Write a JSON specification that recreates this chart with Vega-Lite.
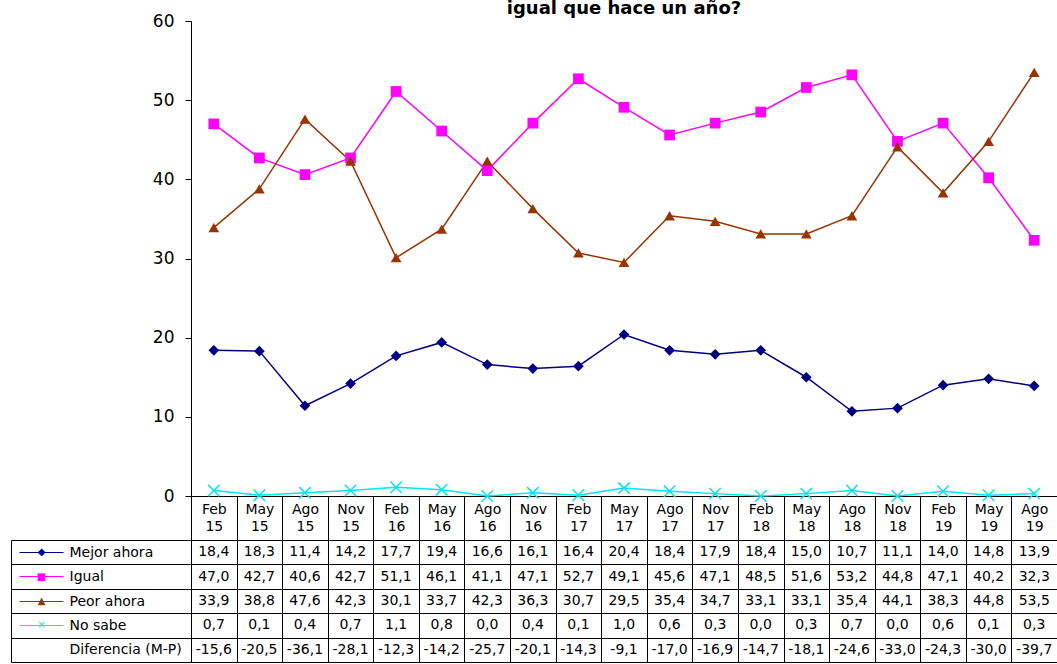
{
  "$schema": "https://vega.github.io/schema/vega-lite/v6.json",
  "padding": {"left": 10, "top": 0, "right": 0, "bottom": 0},
  "autosize": {"type": "pad"},
  "background": "white",
  "bounds": "flush",
  "spacing": 44,
  "data": {"values": [
    {"p": "Feb 15", "s": "Mejor ahora", "v": 18.4}, {"p": "May 15", "s": "Mejor ahora", "v": 18.3}, {"p": "Ago 15", "s": "Mejor ahora", "v": 11.4}, {"p": "Nov 15", "s": "Mejor ahora", "v": 14.2},
    {"p": "Feb 16", "s": "Mejor ahora", "v": 17.7}, {"p": "May 16", "s": "Mejor ahora", "v": 19.4}, {"p": "Ago 16", "s": "Mejor ahora", "v": 16.6}, {"p": "Nov 16", "s": "Mejor ahora", "v": 16.1},
    {"p": "Feb 17", "s": "Mejor ahora", "v": 16.4}, {"p": "May 17", "s": "Mejor ahora", "v": 20.4}, {"p": "Ago 17", "s": "Mejor ahora", "v": 18.4}, {"p": "Nov 17", "s": "Mejor ahora", "v": 17.9},
    {"p": "Feb 18", "s": "Mejor ahora", "v": 18.4}, {"p": "May 18", "s": "Mejor ahora", "v": 15.0}, {"p": "Ago 18", "s": "Mejor ahora", "v": 10.7}, {"p": "Nov 18", "s": "Mejor ahora", "v": 11.1},
    {"p": "Feb 19", "s": "Mejor ahora", "v": 14.0}, {"p": "May 19", "s": "Mejor ahora", "v": 14.8}, {"p": "Ago 19", "s": "Mejor ahora", "v": 13.9},
    {"p": "Feb 15", "s": "Igual", "v": 47.0}, {"p": "May 15", "s": "Igual", "v": 42.7}, {"p": "Ago 15", "s": "Igual", "v": 40.6}, {"p": "Nov 15", "s": "Igual", "v": 42.7},
    {"p": "Feb 16", "s": "Igual", "v": 51.1}, {"p": "May 16", "s": "Igual", "v": 46.1}, {"p": "Ago 16", "s": "Igual", "v": 41.1}, {"p": "Nov 16", "s": "Igual", "v": 47.1},
    {"p": "Feb 17", "s": "Igual", "v": 52.7}, {"p": "May 17", "s": "Igual", "v": 49.1}, {"p": "Ago 17", "s": "Igual", "v": 45.6}, {"p": "Nov 17", "s": "Igual", "v": 47.1},
    {"p": "Feb 18", "s": "Igual", "v": 48.5}, {"p": "May 18", "s": "Igual", "v": 51.6}, {"p": "Ago 18", "s": "Igual", "v": 53.2}, {"p": "Nov 18", "s": "Igual", "v": 44.8},
    {"p": "Feb 19", "s": "Igual", "v": 47.1}, {"p": "May 19", "s": "Igual", "v": 40.2}, {"p": "Ago 19", "s": "Igual", "v": 32.3},
    {"p": "Feb 15", "s": "Peor ahora", "v": 33.9}, {"p": "May 15", "s": "Peor ahora", "v": 38.8}, {"p": "Ago 15", "s": "Peor ahora", "v": 47.6}, {"p": "Nov 15", "s": "Peor ahora", "v": 42.3},
    {"p": "Feb 16", "s": "Peor ahora", "v": 30.1}, {"p": "May 16", "s": "Peor ahora", "v": 33.7}, {"p": "Ago 16", "s": "Peor ahora", "v": 42.3}, {"p": "Nov 16", "s": "Peor ahora", "v": 36.3},
    {"p": "Feb 17", "s": "Peor ahora", "v": 30.7}, {"p": "May 17", "s": "Peor ahora", "v": 29.5}, {"p": "Ago 17", "s": "Peor ahora", "v": 35.4}, {"p": "Nov 17", "s": "Peor ahora", "v": 34.7},
    {"p": "Feb 18", "s": "Peor ahora", "v": 33.1}, {"p": "May 18", "s": "Peor ahora", "v": 33.1}, {"p": "Ago 18", "s": "Peor ahora", "v": 35.4}, {"p": "Nov 18", "s": "Peor ahora", "v": 44.1},
    {"p": "Feb 19", "s": "Peor ahora", "v": 38.3}, {"p": "May 19", "s": "Peor ahora", "v": 44.8}, {"p": "Ago 19", "s": "Peor ahora", "v": 53.5},
    {"p": "Feb 15", "s": "No sabe", "v": 0.7}, {"p": "May 15", "s": "No sabe", "v": 0.1}, {"p": "Ago 15", "s": "No sabe", "v": 0.4}, {"p": "Nov 15", "s": "No sabe", "v": 0.7},
    {"p": "Feb 16", "s": "No sabe", "v": 1.1}, {"p": "May 16", "s": "No sabe", "v": 0.8}, {"p": "Ago 16", "s": "No sabe", "v": 0.0}, {"p": "Nov 16", "s": "No sabe", "v": 0.4},
    {"p": "Feb 17", "s": "No sabe", "v": 0.1}, {"p": "May 17", "s": "No sabe", "v": 1.0}, {"p": "Ago 17", "s": "No sabe", "v": 0.6}, {"p": "Nov 17", "s": "No sabe", "v": 0.3},
    {"p": "Feb 18", "s": "No sabe", "v": 0.0}, {"p": "May 18", "s": "No sabe", "v": 0.3}, {"p": "Ago 18", "s": "No sabe", "v": 0.7}, {"p": "Nov 18", "s": "No sabe", "v": 0.0},
    {"p": "Feb 19", "s": "No sabe", "v": 0.6}, {"p": "May 19", "s": "No sabe", "v": 0.1}, {"p": "Ago 19", "s": "No sabe", "v": 0.3},
    {"p": "Feb 15", "s": "Diferencia (M-P)", "v": -15.6}, {"p": "May 15", "s": "Diferencia (M-P)", "v": -20.5}, {"p": "Ago 15", "s": "Diferencia (M-P)", "v": -36.1}, {"p": "Nov 15", "s": "Diferencia (M-P)", "v": -28.1},
    {"p": "Feb 16", "s": "Diferencia (M-P)", "v": -12.3}, {"p": "May 16", "s": "Diferencia (M-P)", "v": -14.2}, {"p": "Ago 16", "s": "Diferencia (M-P)", "v": -25.7}, {"p": "Nov 16", "s": "Diferencia (M-P)", "v": -20.1},
    {"p": "Feb 17", "s": "Diferencia (M-P)", "v": -14.3}, {"p": "May 17", "s": "Diferencia (M-P)", "v": -9.1}, {"p": "Ago 17", "s": "Diferencia (M-P)", "v": -17.0}, {"p": "Nov 17", "s": "Diferencia (M-P)", "v": -16.9},
    {"p": "Feb 18", "s": "Diferencia (M-P)", "v": -14.7}, {"p": "May 18", "s": "Diferencia (M-P)", "v": -18.1}, {"p": "Ago 18", "s": "Diferencia (M-P)", "v": -24.6}, {"p": "Nov 18", "s": "Diferencia (M-P)", "v": -33.0},
    {"p": "Feb 19", "s": "Diferencia (M-P)", "v": -24.3}, {"p": "May 19", "s": "Diferencia (M-P)", "v": -30.0}, {"p": "Ago 19", "s": "Diferencia (M-P)", "v": -39.7}
  ]},
  "vconcat": [
    {
      "title": {"text": "igual que hace un año?", "font": "DejaVu Sans", "fontSize": 18, "fontWeight": "bold", "color": "black", "offset": -6},
      "width": 866,
      "height": 475,
      "transform": [{"filter": "datum.s != 'Diferencia (M-P)'"}],
      "encoding": {
        "x": {"field": "p", "type": "ordinal", "sort": null,
          "scale": {"type": "band", "paddingInner": 0, "paddingOuter": 0},
          "axis": {"orient": "bottom", "title": null, "tickBand": "extent", "tickSize": 44, "tickColor": "black", "domainColor": "black",
            "labelExpr": "split(datum.label, ' ')", "labelAngle": 0, "labelPadding": -38, "labelBaseline": "top",
            "labelFont": "DejaVu Sans", "labelFontSize": 14, "labelLineHeight": 17, "labelColor": "black", "labelOverlap": false, "grid": false}},
        "y": {"field": "v", "type": "quantitative",
          "scale": {"domain": [0, 60], "nice": false},
          "axis": {"title": null, "values": [0, 10, 20, 30, 40, 50, 60], "tickSize": 6, "tickColor": "black", "domainColor": "black",
            "labelFont": "DejaVu Sans", "labelFontSize": 17, "labelColor": "black", "labelPadding": 11, "grid": false}},
        "color": {"field": "s", "type": "nominal",
          "scale": {"domain": ["Mejor ahora", "Igual", "Peor ahora", "No sabe"], "range": ["#000080", "#ff00ff", "#993300", "#00e5f5"]},
          "legend": null}
      },
      "layer": [
        {"mark": {"type": "line", "strokeWidth": 1.5}},
        {"transform": [{"filter": "datum.s != 'No sabe'"}],
         "mark": {"type": "point", "filled": true, "opacity": 1, "size": 115},
         "encoding": {"shape": {"field": "s", "type": "nominal",
           "scale": {"domain": ["Mejor ahora", "Igual", "Peor ahora"], "range": ["diamond", "square", "triangle-up"]}, "legend": null}}},
        {"transform": [{"filter": "datum.s == 'No sabe'"}],
         "mark": {"type": "point", "shape": "M-1,-1L1,1M-1,1L1,-1", "filled": false, "opacity": 1, "size": 130, "strokeWidth": 1.5}}
      ]
    },
    {
      "width": 866,
      "height": 122,
      "layer": [
        {"mark": {"type": "text", "font": "DejaVu Sans", "fontSize": 14, "color": "black"},
         "encoding": {
           "x": {"field": "p", "type": "ordinal", "sort": null,
             "scale": {"type": "band", "paddingInner": 0, "paddingOuter": 0},
             "axis": {"orient": "bottom", "title": null, "grid": true, "tickBand": "extent", "ticks": false, "labels": false, "domain": false, "gridColor": "black", "gridOpacity": 1, "gridWidth": 1}},
           "y": {"field": "s", "type": "nominal",
             "scale": {"type": "band", "domain": ["Mejor ahora", "Igual", "Peor ahora", "No sabe", "Diferencia (M-P)"], "paddingInner": 0, "paddingOuter": 0},
             "axis": {"orient": "left", "title": null, "tickBand": "extent", "ticks": true, "tickSize": 180, "tickColor": "black",
               "domain": true, "domainColor": "black", "grid": true, "gridColor": "black", "gridOpacity": 1,
               "labelAlign": "left", "labelBaseline": "middle", "labelPadding": -58, "labelFont": "DejaVu Sans", "labelFontSize": 14, "labelColor": "black", "labelLimit": 0, "labelOverlap": false}},
           "text": {"field": "v", "type": "quantitative", "format": ".1f"}
         }},
        {"mark": {"type": "point", "opacity": 0},
         "encoding": {
           "y": {"field": "s", "type": "nominal",
             "scale": {"type": "band", "domain": ["Mejor ahora", "Igual", "Peor ahora", "No sabe", "Diferencia (M-P)"], "paddingInner": 0, "paddingOuter": 0},
             "axis": {"orient": "left", "offset": 128, "title": null, "domain": false, "grid": false, "ticks": true, "tickSize": 44, "tickWidth": 1,
               "tickColor": {"condition": [
                 {"test": "datum.value == 'Mejor ahora'", "value": "#000080"},
                 {"test": "datum.value == 'Igual'", "value": "#ff00ff"},
                 {"test": "datum.value == 'Peor ahora'", "value": "#993300"},
                 {"test": "datum.value == 'No sabe'", "value": "#00e5f5"}], "value": "white"},
               "tickOpacity": {"condition": {"test": "datum.value == 'Diferencia (M-P)'", "value": 0}, "value": 1},
               "labelExpr": "datum.value == 'Mejor ahora' ? '◆' : datum.value == 'Igual' ? '■' : datum.value == 'Peor ahora' ? '▲' : datum.value == 'No sabe' ? '×' : ''",
               "labelAlign": "center", "labelBaseline": "middle", "labelPadding": -22, "labelFont": "DejaVu Sans", "labelFontSize": 10, "labelOverlap": false,
               "labelColor": {"condition": [
                 {"test": "datum.value == 'Mejor ahora'", "value": "#000080"},
                 {"test": "datum.value == 'Igual'", "value": "#ff00ff"},
                 {"test": "datum.value == 'Peor ahora'", "value": "#993300"},
                 {"test": "datum.value == 'No sabe'", "value": "#00e5f5"}], "value": "white"}}}
         }},
        {"mark": {"type": "point", "opacity": 0},
         "encoding": {
           "y": {"field": "s", "type": "nominal",
             "scale": {"type": "band", "domain": ["Mejor ahora", "Igual", "Peor ahora", "No sabe", "Diferencia (M-P)"], "paddingInner": 0, "paddingOuter": 0},
             "axis": {"orient": "left", "offset": 180, "title": null, "domain": true, "domainColor": "black", "ticks": false, "labels": false, "grid": false}}
         }}
      ],
      "resolve": {"scale": {"y": "independent"}, "axis": {"y": "independent"}}
    }
  ],
  "config": {
    "view": {"stroke": null},
    "locale": {"number": {"decimal": ",", "thousands": ".", "grouping": [3], "currency": ["", " €"], "minus": "-"}}
  }
}
